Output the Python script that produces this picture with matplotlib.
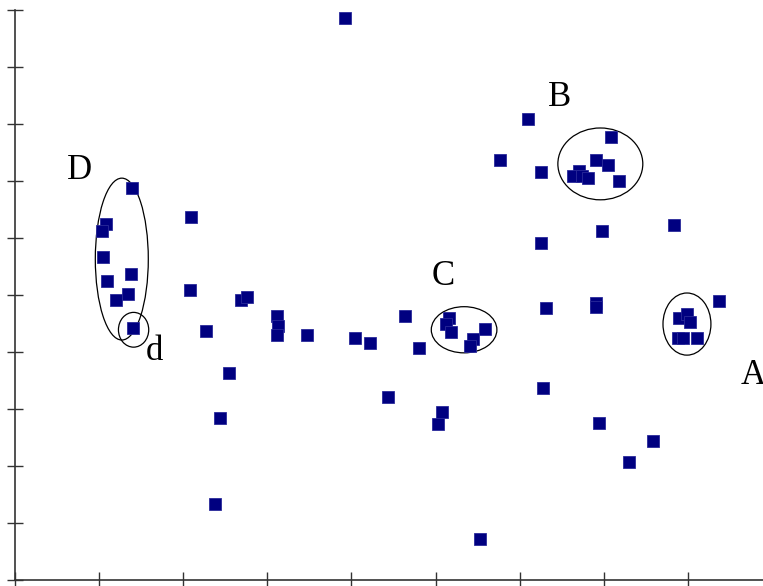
import matplotlib
matplotlib.use("Agg")
import matplotlib.pyplot as plt
from matplotlib.patches import Ellipse

# scatter points (data units, 1 x-tick = 1, 1 y-tick = 1)
xs = [3.92, 6.10, 5.77, 6.25,
      7.09, 6.91, 7.05, 6.71, 6.63, 6.74, 6.81, 7.18,
      2.09,
      1.39, 1.08, 1.03, 1.05, 1.38, 1.09, 1.34, 1.20, 1.40,
      6.98, 7.84, 6.25, 2.08, 2.69, 2.76, 3.12, 3.13, 3.12, 3.47,
      2.27, 2.54, 2.44, 2.38, 4.04, 4.22, 4.64, 4.80, 4.44, 5.08, 5.03, 5.53,
      5.16, 5.12, 5.18, 5.45, 5.41, 5.59,
      6.31, 6.91, 6.91, 6.28, 6.94, 7.30, 7.59,
      7.90, 7.99, 8.03, 7.88, 7.94, 8.11, 8.37]
ys = [9.86, 8.09, 7.37, 7.16,
      7.77, 7.37, 7.28, 7.18, 7.09, 7.09, 7.05, 7.00,
      6.37,
      6.88, 6.25, 6.12, 5.67, 5.37, 5.25, 5.02, 4.91, 4.42,
      6.12, 6.23, 5.91, 5.09, 4.91, 4.96, 4.63, 4.46, 4.30, 4.30,
      4.37, 3.63, 2.84, 1.33, 4.25, 4.16, 4.63, 4.07, 3.21, 2.95, 2.74, 0.72,
      4.60, 4.49, 4.35, 4.23, 4.11, 4.40,
      4.77, 4.86, 4.79, 3.37, 2.75, 2.07, 2.44,
      4.60, 4.67, 4.53, 4.25, 4.25, 4.25, 4.89]

# cluster outlines: centre x, centre y, width, height
ell_x = [1.27, 1.41, 6.96, 5.34, 7.99]
ell_y = [5.63, 4.39, 7.30, 4.39, 4.49]
ell_w = [0.63, 0.36, 1.01, 0.78, 0.57]
ell_h = [2.84, 0.61, 1.26, 0.81, 1.09]

labels = ["D", "B", "C", "d", "A"]
lab_x = [0.77, 6.48, 5.09, 1.66, 8.78]
lab_y = [7.18, 8.47, 5.33, 4.00, 3.58]

fig = plt.figure(figsize=(7.63, 5.86), dpi=100)
ax = fig.add_axes([15 / 763, 6 / 586, 748 / 763, 570 / 586])

ax.plot(xs, ys, 's', color='#000080', markersize=9, markeredgecolor='#2a2a9a',
        markeredgewidth=0.6, clip_on=False)

for cx, cy, w, h in zip(ell_x, ell_y, ell_w, ell_h):
    ax.add_patch(Ellipse((cx, cy), w, h, fill=False, edgecolor='black', linewidth=0.9))

for t, x, y in zip(labels, lab_x, lab_y):
    ax.text(x, y, t, fontsize=25, family='Liberation Serif', ha='center', va='center')

ax.set_xlim(0, 748 / 84.1)
ax.set_ylim(0, 10)
ax.set_xticks(range(0, 9))
ax.set_yticks(range(0, 11))
ax.set_xticklabels([])
ax.set_yticklabels([])
ax.tick_params(direction='inout', length=12, width=1, colors='#333333')
for s in ['top', 'right']:
    ax.spines[s].set_visible(False)
for s in ['left', 'bottom']:
    ax.spines[s].set_color('#333333')
    ax.spines[s].set_linewidth(1.2)

fig.savefig('out.png', dpi=100)
